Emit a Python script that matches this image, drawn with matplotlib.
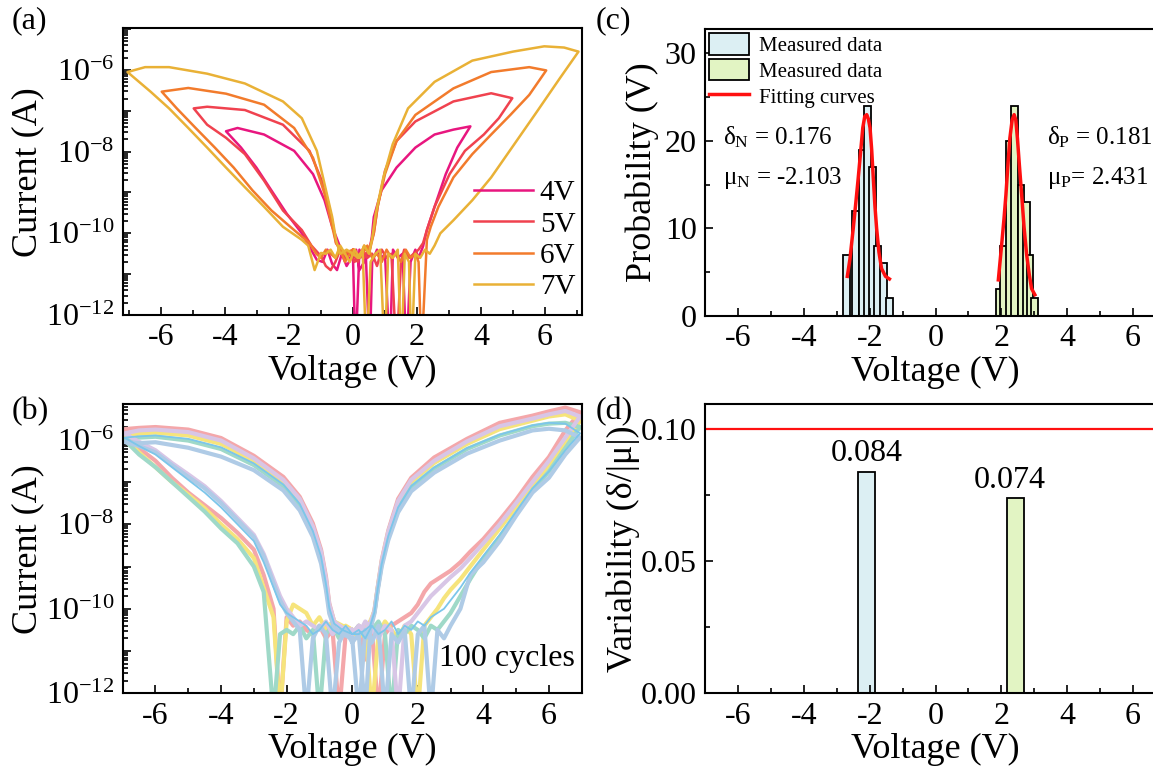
import matplotlib
matplotlib.use("Agg")
import matplotlib.pyplot as plt
import numpy as np
from matplotlib.ticker import FixedLocator, FuncFormatter, MultipleLocator, LogLocator, NullFormatter
from matplotlib.patches import Patch
from matplotlib.lines import Line2D

plt.rcParams['font.family'] = ['Liberation Serif', 'DejaVu Serif']
plt.rcParams['mathtext.fontset'] = 'custom'
plt.rcParams['mathtext.rm'] = 'Liberation Serif'
plt.rcParams['mathtext.it'] = 'Liberation Serif:italic'
plt.rcParams['axes.unicode_minus'] = False

# ---------------- (a) I-V sweeps: voltage (V) and log10(current/A) ----------------
sweep_labels = ['4V', '5V', '6V', '7V']
sweep_colors = ['#E8167F', '#F0424F', '#F27B2C', '#E9B136']

v_4V = [0.0, 0.08, 0.2, 0.3, 0.4, 0.52, 0.6, 0.75, 0.9, 1.0, 1.15, 1.25, 1.4, 1.55, 1.67, 1.8, 1.95, 2.05,
        2.19, 2.31, 2.55, 2.9, 3.26, 3.67,
        3.14, 2.55, 1.95, 1.36, 0.89, 0.65, 0.59,
        0.5, 0.35, 0.2, 0.1, -0.05, -0.2, -0.35, -0.5, -0.65, -0.8, -0.95, -1.13,
        -1.6, -2.07, -2.55, -3.02, -3.5, -3.97,
        -3.61, -2.78, -1.84, -1.25, -0.89, -0.65, -0.41, -0.25, 0.0]
i_4V = [-10.6, -13.0, -10.4, -10.6, -10.5, -13.0, -10.7, -10.4, -10.6, -10.5, -13.0, -10.4, -10.6, -10.5, -13.0, -10.7, -10.4, -10.6,
        -10.32, -9.92, -9.35, -8.55, -7.9, -7.38,
        -7.46, -7.58, -7.9, -8.39, -8.95, -9.6, -10.08,
        -10.5, -10.7, -10.9, -10.4, -10.6, -10.8, -10.5, -10.9, -10.75, -10.4, -10.7, -10.65,
        -10.0, -9.52, -8.95, -8.39, -7.9, -7.5,
        -7.42, -7.58, -7.98, -8.55, -9.19, -9.84, -10.32, -10.6, -10.6]

v_5V = [0.0, 0.15, 0.3, 0.45, 0.6, 0.75, 0.9, 1.05, 1.2, 1.36, 1.5, 1.6, 1.75, 1.9, 2.05,
        2.19, 2.31, 2.55, 3.02, 3.5, 4.09, 4.56, 4.98,
        4.32, 3.14, 1.95, 1.36, 1.0, 0.77, 0.65,
        0.5, 0.35, 0.2, 0.05, -0.1, -0.25, -0.4, -0.55, -0.7, -0.85, -1.0,
        -1.3, -1.6, -2.19, -2.78, -3.38, -3.97, -4.56, -4.98,
        -4.56, -3.38, -2.19, -1.36, -0.89, -0.65, -0.53, -0.3, 0.0]
i_5V = [-10.5, -10.7, -10.4, -10.6, -10.5, -10.8, -10.4, -10.6, -10.5, -13.0, -10.7, -10.4, -10.6, -10.5, -10.4,
        -10.24, -9.92, -9.35, -8.55, -7.98, -7.58, -7.18, -6.69,
        -6.57, -6.77, -7.26, -7.74, -8.47, -9.35, -10.0,
        -10.4, -10.6, -10.5, -10.7, -10.5, -10.6, -10.4, -10.7, -10.9, -10.8, -10.56,
        -10.3, -9.92, -9.44, -8.71, -8.06, -7.66, -7.34, -6.94,
        -6.9, -6.98, -7.34, -7.98, -8.87, -9.68, -10.24, -10.5, -10.5]

v_6V = [0.0, 0.15, 0.3, 0.45, 0.6, 0.75, 0.9, 1.05, 1.2, 1.35, 1.5, 1.65, 1.8, 1.95, 2.05, 2.14,
        2.31, 2.43, 2.67, 3.14, 3.73, 4.32, 4.92, 5.51, 6.04,
        5.51, 4.32, 3.14, 1.95, 1.36, 1.0, 0.77, 0.65,
        0.5, 0.35, 0.2, 0.05, -0.1, -0.25, -0.4, -0.55, -0.7, -0.85, -1.0, -1.15, -1.36,
        -1.96, -2.55, -3.14, -3.73, -4.32, -4.92, -5.51, -5.98,
        -5.15, -3.97, -2.78, -1.84, -1.25, -0.89, -0.65, -0.53, -0.3, 0.0]
i_6V = [-10.4, -10.6, -10.5, -10.3, -10.6, -10.5, -10.7, -10.4, -10.6, -10.5, -10.7, -10.4, -10.6, -10.5, -10.7, -13.0,
        -10.16, -9.84, -9.35, -8.63, -8.06, -7.58, -7.1, -6.61, -6.01,
        -5.93, -6.05, -6.45, -7.1, -7.74, -8.55, -9.35, -10.0,
        -10.5, -10.3, -10.6, -10.4, -10.5, -10.7, -10.4, -10.6, -10.5, -10.4, -10.6, -10.5, -10.24,
        -9.84, -9.44, -8.95, -8.39, -7.9, -7.42, -6.94, -6.53,
        -6.44, -6.58, -6.85, -7.42, -8.15, -9.03, -9.84, -10.24, -10.5, -10.4]

v_7V = [0.0, 0.15, 0.3, 0.42, 0.55, 0.7, 0.85, 0.99, 1.1, 1.25, 1.4, 1.51, 1.62, 1.75, 1.83, 1.95, 2.1, 2.25, 2.4, 2.55,
        2.73, 3.14, 3.73, 4.32, 5.04, 5.75, 6.46, 7.05,
        6.6, 5.98, 5.0, 3.73, 2.55, 1.72, 1.24, 0.95, 0.71, 0.59,
        0.5, 0.35, 0.2, 0.05, -0.1, -0.25, -0.4, -0.55, -0.7, -0.85, -1.0, -1.2, -1.4,
        -1.6, -2.19, -2.78, -3.38, -3.97, -4.56, -5.15, -5.75, -6.33, -7.05,
        -6.5, -5.75, -4.56, -3.38, -2.19, -1.6, -1.13, -0.89, -0.65, -0.53, -0.4, -0.2, 0.0]
i_7V = [-10.5, -10.6, -10.4, -13.0, -10.7, -10.5, -10.4, -13.0, -10.5, -10.6, -10.4, -13.0, -10.5, -10.7, -13.0, -10.5, -10.6, -10.4, -10.5, -10.3,
        -10.0, -9.68, -9.19, -8.63, -7.82, -7.02, -6.21, -5.55,
        -5.45, -5.42, -5.55, -5.77, -6.29, -6.94, -7.82, -8.63, -9.52, -10.16,
        -10.5, -10.3, -10.6, -10.4, -10.7, -10.5, -10.3, -10.6, -10.4, -10.5, -10.48, -10.9, -10.3,
        -10.16, -9.84, -9.35, -8.87, -8.39, -7.90, -7.42, -6.94, -6.53, -6.05,
        -5.93, -5.93, -6.09, -6.33, -6.77, -7.18, -7.98, -8.79, -9.6, -10.16, -10.5, -10.4, -10.5]

# ---------------- (b) 100 cycles: shared voltage path, log10(current/A) per cycle ----------------
cycle_v = [0.0, 0.2, 0.4, 0.6, 0.8, 1.0, 1.2, 1.4, 1.6, 1.8, 2.0, 2.2, 2.4, 2.6, 2.8, 3.0, 3.3, 3.6, 4.0, 4.5, 5.0, 5.5, 6.0, 6.5, 6.95,
           6.5, 6.0, 5.5, 4.5, 3.5, 2.5, 1.8, 1.4, 1.1, 0.9, 0.78, 0.68, 0.55, 0.4, 0.2, 0.0,
           -0.2, -0.4, -0.6, -0.8, -1.0, -1.2, -1.4, -1.6, -1.8, -2.0, -2.2, -2.4, -2.7, -3.0, -3.5, -4.0, -4.5, -5.0, -5.5, -6.0, -6.5, -6.95,
           -6.5, -6.0, -5.0, -4.0, -3.0, -2.1, -1.6, -1.2, -0.95, -0.8, -0.7, -0.55, -0.3, 0.0]
cycle_pink = [-10.6, -10.4, -11.2, -10.5, -12.5, -10.6, -10.4, -10.3, -10.2, -10.1, -9.9, -9.6, -9.4, -9.3, -9.2, -9.1, -8.9, -8.65, -8.35, -7.9, -7.42, -6.88, -6.41, -5.78, -5.35,
              -5.24, -5.33, -5.43, -5.6, -5.98, -6.42, -6.9, -7.4, -8.15, -8.85, -9.48, -10.03, -10.4, -10.5, -10.7, -10.5,
              -10.6, -12.5, -10.5, -10.7, -10.4, -10.6, -10.5, -10.3, -10.4, -10.2, -12.5, -10.0, -9.2, -8.6, -8.2, -7.85, -7.55, -7.25, -6.9, -6.5, -6.2, -5.75,
              -5.72, -5.7, -5.76, -5.96, -6.38, -6.88, -7.35, -7.98, -8.6, -9.24, -9.87, -10.3, -10.5, -10.6]
cycle_yellow = [-10.5, -10.7, -10.4, -12.5, -10.6, -10.3, -10.5, -10.7, -10.4, -10.6, -12.5, -10.4, -10.2, -10.0, -9.75, -9.55, -9.3, -9.0, -8.6, -8.1, -7.6, -7.1, -6.6, -6.1, -5.55,
                -5.4, -5.45, -5.55, -5.75, -6.1, -6.55, -7.0, -7.5, -8.2, -8.9, -9.5, -10.05, -10.3, -10.4, -10.6, -10.5,
                -10.4, -10.6, -10.3, -10.5, -10.2, -10.4, -10.1, -10.0, -9.9, -10.3, -12.5, -10.2, -9.5, -8.8, -8.35, -8.0, -7.62, -7.3, -7.0, -6.65, -6.3, -5.95,
                -5.85, -5.83, -5.9, -6.1, -6.5, -7.0, -7.45, -8.1, -8.7, -9.35, -9.95, -10.3, -10.4, -10.5]
cycle_mint = [-10.6, -10.4, -10.7, -10.5, -10.3, -10.6, -12.5, -10.5, -10.6, -10.4, -10.5, -10.7, -10.4, -10.5, -10.3, -10.1, -9.7, -9.3, -8.8, -8.3, -7.75, -7.2, -6.75, -6.2, -5.7,
              -5.6, -5.62, -5.68, -5.9, -6.22, -6.68, -7.12, -7.62, -8.3, -8.95, -9.52, -10.08, -10.4, -10.6, -10.5, -10.6,
              -10.5, -10.7, -10.4, -10.6, -12.5, -10.5, -10.7, -10.4, -10.6, -10.5, -10.6, -12.5, -9.6, -9.0, -8.45, -8.1, -7.7, -7.35, -7.0, -6.65, -6.35, -6.0,
              -5.95, -5.93, -6.02, -6.22, -6.6, -7.1, -7.55, -8.2, -8.8, -9.45, -10.0, -10.4, -10.5, -10.6]
cycle_lavender = [-10.5, -10.6, -10.3, -10.5, -10.7, -10.4, -10.5, -12.5, -10.4, -10.3, -10.1, -9.9, -9.7, -9.55, -9.4, -9.25, -9.05, -8.8, -8.45, -8.0, -7.5, -7.0, -6.5, -5.95, -5.45,
                  -5.32, -5.4, -5.5, -5.68, -6.04, -6.5, -6.95, -7.45, -8.18, -8.88, -9.5, -10.05, -10.35, -10.5, -10.4, -10.6,
                  -10.5, -10.4, -10.6, -10.3, -10.5, -10.4, -10.3, -10.4, -10.2, -10.0, -9.7, -9.3, -8.7, -8.25, -7.85, -7.45, -7.1, -6.82, -6.55, -6.25, -6.05, -5.85,
                  -5.78, -5.76, -5.82, -6.02, -6.44, -6.95, -7.4, -8.05, -8.65, -9.3, -9.9, -10.3, -10.45, -10.5]
cycle_sky = [-10.6, -10.5, -10.7, -10.4, -10.6, -10.5, -10.3, -10.6, -10.4, -10.5, -10.3, -10.4, -10.2, -10.1, -10.0, -9.8, -9.5, -9.15, -8.75, -8.25, -7.7, -7.15, -6.75, -6.25, -5.85,
             -5.62, -5.6, -5.66, -5.88, -6.2, -6.66, -7.1, -7.6, -8.28, -8.94, -9.52, -10.08, -10.4, -10.5, -10.6, -10.6,
             -10.4, -10.6, -10.5, -10.3, -10.5, -10.6, -10.4, -10.3, -10.2, -10.1, -9.9, -9.5, -8.9, -8.4, -8.0, -7.6, -7.25, -6.95, -6.65, -6.35, -6.15, -5.95,
             -5.92, -5.9, -5.98, -6.18, -6.56, -7.06, -7.52, -8.16, -8.76, -9.42, -9.98, -10.35, -10.5, -10.6]
cycle_blue = [-10.7, -12.5, -10.5, -10.8, -10.4, -12.5, -10.6, -10.8, -10.5, -12.5, -10.6, -10.4, -12.5, -10.5, -10.7, -10.4, -10.0, -9.2, -8.9, -8.4, -7.8, -7.25, -6.9, -6.35, -5.95,
              -5.78, -5.74, -5.78, -6.02, -6.33, -6.78, -7.22, -7.72, -8.38, -9.0, -9.56, -10.11, -10.5, -12.5, -10.6, -10.8,
              -10.5, -10.8, -12.5, -10.6, -10.4, -10.7, -12.5, -10.5, -10.3, -10.1, -9.8, -9.4, -8.75, -8.3, -7.9, -7.5, -7.15, -6.88, -6.6, -6.3, -6.15, -6.05,
              -6.08, -6.06, -6.19, -6.4, -6.72, -7.2, -7.67, -8.3, -8.93, -9.56, -10.11, -10.45, -10.6, -10.7]
cycle_series = [cycle_pink, cycle_yellow, cycle_mint, cycle_lavender, cycle_blue, cycle_sky]
cycle_colors = ['#F4A7AA', '#F6E47C', '#9FD9C8', '#D8C6E6', '#AFCBE6', '#7CC6EA']
cycle_widths = [3.0, 3.0, 3.0, 3.0, 3.0, 1.3]
cycle_text = '100 cycles'

# ---------------- (c) histograms ----------------
hist_n_centers = [-2.695, -2.44, -2.235, -2.06, -1.91, -1.77, -1.575, -1.40]
hist_n_counts = [7, 12, 19, 24, 17, 8, 6, 2]
hist_p_centers = [1.94, 2.06, 2.245, 2.395, 2.60, 2.77, 2.875, 3.005]
hist_p_counts = [3, 8, 20, 24, 15, 13, 7, 2]
fit_n_v = [-2.68, -2.60, -2.50, -2.42, -2.35, -2.27, -2.21, -2.15, -2.09, -2.04, -1.99, -1.94, -1.89, -1.84, -1.79, -1.72, -1.64, -1.52, -1.40]
fit_n_y = [4.5, 6.5, 10.0, 13.0, 15.7, 19.0, 21.5, 22.8, 23.0, 22.5, 21.5, 19.0, 15.7, 12.5, 10.0, 7.3, 5.4, 4.5, 4.2]
fit_p_v = [1.91, 2.01, 2.08, 2.14, 2.20, 2.26, 2.33, 2.39, 2.44, 2.49, 2.55, 2.62, 2.69, 2.77, 2.85, 2.92, 3.02]
fit_p_y = [4.1, 8.1, 11.0, 13.8, 17.2, 20.3, 22.4, 23.0, 22.4, 20.3, 17.2, 13.8, 10.2, 7.0, 4.7, 3.1, 2.4]
delta_n, mu_n = '0.176', '-2.103'
delta_p, mu_p = '0.181', '2.431'

# ---------------- (d) variability ----------------
var_v = [-2.103, 2.431]
var_vals = [0.084, 0.074]
var_labels = ['0.084', '0.074']
var_limit = 0.10

col_n = '#DCEFF3'
col_p = '#E2F4C3'

TICK_FS = 23
LABEL_FS = 26

fig = plt.figure(figsize=(11.53, 7.67), dpi=100)
W, H = 1153.0, 767.0
def rect(x0, y0, x1, y1):
    return [x0 / W, 1 - y1 / H, (x1 - x0) / W, (y1 - y0) / H]

ax_a = fig.add_axes(rect(122.7, 28.3, 581.7, 315.0))
ax_b = fig.add_axes(rect(122.7, 404.0, 581.7, 693.3))
ax_c = fig.add_axes(rect(705.2, 29.0, 1165.8, 315.7))
ax_d = fig.add_axes(rect(705.2, 404.0, 1165.8, 693.3))

def style(ax):
    for s in ax.spines.values():
        s.set_linewidth(1.5)
    ax.tick_params(which='both', direction='in', width=1.2, labelsize=TICK_FS, pad=6)
    ax.tick_params(which='major', length=6)
    ax.tick_params(which='minor', length=3.5)

def log_fmt(val, pos):
    e = int(round(np.log10(val)))
    if e % 2 == 0:
        return r'$\mathregular{10^{%d}}$' % e
    return ''

def setup_log(ax, top):
    ax.set_yscale('log')
    ax.set_ylim(1e-12, top)
    ax.yaxis.set_major_locator(FixedLocator([10.0 ** e for e in range(-12, -4)]))
    ax.yaxis.set_major_formatter(FuncFormatter(log_fmt))
    ax.yaxis.set_minor_locator(LogLocator(base=10, subs=np.arange(2, 10), numticks=50))
    ax.yaxis.set_minor_formatter(NullFormatter())
    ax.xaxis.set_major_locator(MultipleLocator(2))
    ax.xaxis.set_minor_locator(MultipleLocator(1))
    ax.set_xlabel('Voltage (V)', fontsize=LABEL_FS, labelpad=2)
    ax.set_ylabel('Current (A)', fontsize=LABEL_FS)
    ax.yaxis.set_label_coords(-0.17, 0.5)
    style(ax)

# (a)
for v, i, c, lab in zip([v_4V, v_5V, v_6V, v_7V], [i_4V, i_5V, i_6V, i_7V], sweep_colors, sweep_labels):
    ax_a.plot(v, 10.0 ** np.array(i), color=c, lw=1.8, label=lab)
ax_a.set_xlim(-7.2, 7.15)
setup_log(ax_a, 1.05e-5)
ax_a.legend(loc='lower right', bbox_to_anchor=(1.015, 0.005), frameon=False, fontsize=21,
            handlelength=2.0, handletextpad=0.25, labelspacing=0.17, borderaxespad=0.05)

# (b)
for vals, c, w in zip(cycle_series, cycle_colors, cycle_widths):
    ax_b.plot(cycle_v, 10.0 ** np.array(vals), color=c, lw=w, solid_joinstyle='round')
ax_b.set_xlim(-7.0, 7.0)
setup_log(ax_b, 7e-6)
ax_b.text(0.985, 0.12, cycle_text, transform=ax_b.transAxes, ha='right', va='center', fontsize=23)

# (c)
ax_c.bar(hist_n_centers, hist_n_counts, width=0.21, color=col_n, edgecolor='black', linewidth=1.3)
ax_c.bar(hist_p_centers, hist_p_counts, width=0.2, color=col_p, edgecolor='black', linewidth=1.3)
ax_c.plot(fit_n_v, fit_n_y, color='#FF1010', lw=2.5)
ax_c.plot(fit_p_v, fit_p_y, color='#FF1010', lw=2.5)
ax_c.set_xlim(-7, 7)
ax_c.set_ylim(0, 32.8)
ax_c.xaxis.set_major_locator(MultipleLocator(2))
ax_c.xaxis.set_minor_locator(MultipleLocator(1))
ax_c.yaxis.set_major_locator(MultipleLocator(10))
ax_c.yaxis.set_minor_locator(MultipleLocator(5))
ax_c.set_xlabel('Voltage (V)', fontsize=LABEL_FS, labelpad=2)
ax_c.set_ylabel('Probability (V)', fontsize=LABEL_FS)
ax_c.yaxis.set_label_coords(-0.1, 0.5)
style(ax_c)
ax_c.text(-6.46, 20.4, r'$\mathregular{δ_N}$ = ' + delta_n, fontsize=18, va='center')
ax_c.text(-6.46, 15.8, r'$\mathregular{μ_N}$ = ' + mu_n, fontsize=18, va='center')
ax_c.text(3.40, 20.4, r'$\mathregular{δ_P}$ = ' + delta_p, fontsize=18, va='center')
ax_c.text(3.40, 15.8, r'$\mathregular{μ_P}$= ' + mu_p, fontsize=18, va='center')
handles = [Patch(facecolor=col_n, edgecolor='black', linewidth=1.3),
           Patch(facecolor=col_p, edgecolor='black', linewidth=1.3),
           Line2D([], [], color='#FF1010', lw=2.5)]
ax_c.legend(handles, ['Measured data', 'Measured data', 'Fitting curves'], loc='upper left',
            bbox_to_anchor=(0.0, 1.0), frameon=False, fontsize=15, handlelength=1.9,
            handleheight=1.2, handletextpad=0.5, labelspacing=0.15, borderaxespad=0.1, borderpad=0.1)

# (d)
ax_d.bar(var_v, var_vals, width=0.5, color=[col_n, col_p], edgecolor='black', linewidth=1.3)
ax_d.axhline(var_limit, color='#FF1010', lw=1.6)
for x, y, t in zip(var_v, var_vals, var_labels):
    ax_d.text(x + (0.02 if x < 0 else -0.16), y + 0.0012, t, ha='center', va='bottom', fontsize=23)
ax_d.set_xlim(-7, 7)
ax_d.set_ylim(0, 0.1096)
ax_d.xaxis.set_major_locator(MultipleLocator(2))
ax_d.xaxis.set_minor_locator(MultipleLocator(1))
ax_d.yaxis.set_major_locator(MultipleLocator(0.05))
ax_d.yaxis.set_minor_locator(MultipleLocator(0.025))
ax_d.yaxis.set_major_formatter(FuncFormatter(lambda v, p: '%.2f' % v))
ax_d.set_xlabel('Voltage (V)', fontsize=LABEL_FS, labelpad=2)
ax_d.set_ylabel('Variability (δ/|μ|)', fontsize=LABEL_FS)
ax_d.yaxis.set_label_coords(-0.142, 0.5)
style(ax_d)

for x, y, t in [(0.010, 0.992, '(a)'), (0.010, 0.483, '(b)'), (0.517, 0.992, '(c)'), (0.517, 0.483, '(d)')]:
    fig.text(x, y, t, fontsize=23, va='top', ha='left')

fig.savefig('out.png', dpi=100)
